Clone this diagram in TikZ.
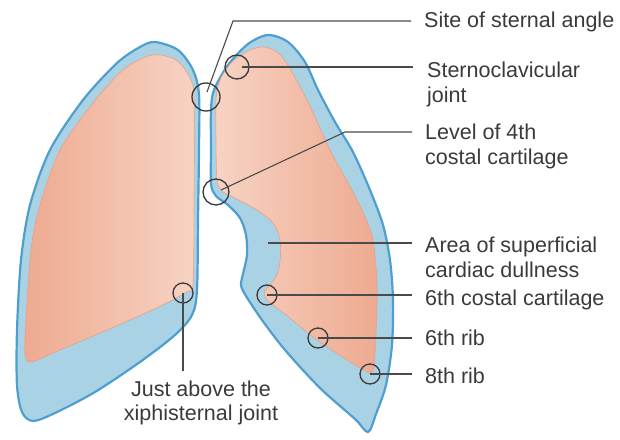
\documentclass[tikz,border=0pt]{standalone}
\usepackage{fontspec}
\setmainfont{Liberation Sans}
\usetikzlibrary{calc}
\definecolor{pleura}{HTML}{A9D2E5}
\definecolor{pleuraedge}{HTML}{4E9FCF}
\definecolor{lungdark}{HTML}{EEAA90}
\definecolor{lunglight}{HTML}{F7D3C3}
\definecolor{lungedge}{HTML}{E5A18A}
\definecolor{ink}{HTML}{3A3A3A}
\definecolor{leader}{HTML}{4A4A4A}
\begin{document}
\begin{tikzpicture}[x=1pt,y=-1pt,
  pleurafill/.style={fill=pleura, draw=pleuraedge, line width=2.2pt, line join=round},
  lungfill/.style={draw=lungedge, line width=0.6pt},
  ring/.style={circle, draw=ink, line width=1.3pt, inner sep=0pt, minimum size=#1},
  ring/.default=20pt,
  lead/.style={draw=leader, line width=1.1pt},
  lab/.style={anchor=base west, inner sep=0pt, align=left, text=ink,
    font=\fontsize{21.5}{25}\selectfont}]

\useasboundingbox (0,0) rectangle (620,439);

% left lung: pleura
\path[pleurafill] plot[smooth cycle, tension=0.5] coordinates {
  (155,42) (178,50) (193,70) (199,95) (199,150) (198,220) (197,290) (192,315)
  (175,335) (140,362) (95,392) (55,413) (33,421) (22,412) (17,385) (17,330)
  (21,260) (30,205) (50,150) (83,100) (117,63) (140,47)};
% left lung: lung tissue
\path[lungfill, left color=lungdark, right color=lunglight]
  plot[smooth cycle, tension=0.5] coordinates {
  (152,55) (176,60) (190,78) (194,100) (194,200) (193,284) (187,292) (150,311)
  (100,333) (60,350) (31,362) (25,354) (26,320) (31,250) (40,205) (60,150)
  (93,103) (123,70)};

% right lung: pleura
\path[pleurafill] plot[smooth cycle, tension=0.5] coordinates {
  (268,35) (288,42) (305,62) (318,90) (335,122) (353,152) (370,190) (383,225)
  (390,260) (393,300) (392,345) (386,385) (376,414) (368,432) (355,419)
  (320,388) (285,350) (262,320) (246,296) (241,285) (243,274) (247,255)
  (246,235) (240,218) (228,205) (216,196) (211,184) (211,150) (211,110)
  (214,90) (228,65) (248,44)};
% right lung: lung tissue
\path[lungfill, left color=lunglight, right color=lungdark]
  plot[smooth cycle, tension=0.5] coordinates {
  (265,47) (283,58) (307,100) (330,150) (352,190) (365,217) (373,240)
  (377,283) (376,333) (373,370) (362,369) (317,340) (285,314) (268,301)
  (264,293) (268,287) (276,277) (280,262) (280,240) (273,223) (257,210)
  (235,198) (222,191) (217,180) (216,140) (216,100) (220,80) (232,62) (248,51)};

% marked sites
\node[ring=28pt] (angle)  at (206,97)  {};
\node[ring=24pt] (sc)     at (237,67)  {};
\node[ring=26pt] (cc4)    at (216,192) {};
\node[ring]      (xiph)   at (183,293) {};
\node[ring]      (cc6)    at (267,295) {};
\node[ring]      (rib6)   at (318,338) {};
\node[ring]      (rib8)   at (370,374) {};
\coordinate (dull) at (268,243);

% labels (multi-line labels sit on the baseline of their last line)
\node[lab] (tAngle) at (424,27)  {Site of sternal angle};
\node[lab] (tSc)    at (427,102) {Sternoclavicular\\joint};
\node[lab] (tCc4)   at (425,164) {Level of 4th\\costal cartilage};
\node[lab] (tDull)  at (425,277) {Area of superficial\\cardiac dullness};
\node[lab] (tCc6)   at (425,305) {6th costal cartilage};
\node[lab] (tRib6)  at (425,345) {6th rib};
\node[lab] (tRib8)  at (425,383) {8th rib};
\node[anchor=base, inner sep=0pt, align=center, text=ink,
  font=\fontsize{21.5}{24}\selectfont] (tXiph) at (201,420)
  {Just above the\\xiphisternal joint};

% leader lines
\coordinate (kAngle) at (233,21);
\coordinate (eAngle) at (411,21);
\coordinate (eSc)    at (413,67);
\coordinate (kCc4)   at (345,132);
\coordinate (eCc4)   at (412,132);
\coordinate (eDull)  at (412,243);
\coordinate (eCc6)   at (412,295);
\coordinate (eRib6)  at (412,338);
\coordinate (eRib8)  at (412,374);
\coordinate (eXiph)  at (183,371);

\draw[lead] ($(angle.center)+(1,-5)$) -- (kAngle) -- (eAngle);
\draw[lead] ($(sc.center)+(5,0)$) -- (eSc);
\draw[lead] ($(cc4.center)+(5,-2)$) -- (kCc4) -- (eCc4);
\draw[lead] (dull) -- (eDull);
\draw[lead] (cc6.center) -- (eCc6);
\draw[lead] (rib6.center) -- (eRib6);
\draw[lead] (rib8.center) -- (eRib8);
\draw[lead] (xiph.center) -- (eXiph);
\end{tikzpicture}
\end{document}
